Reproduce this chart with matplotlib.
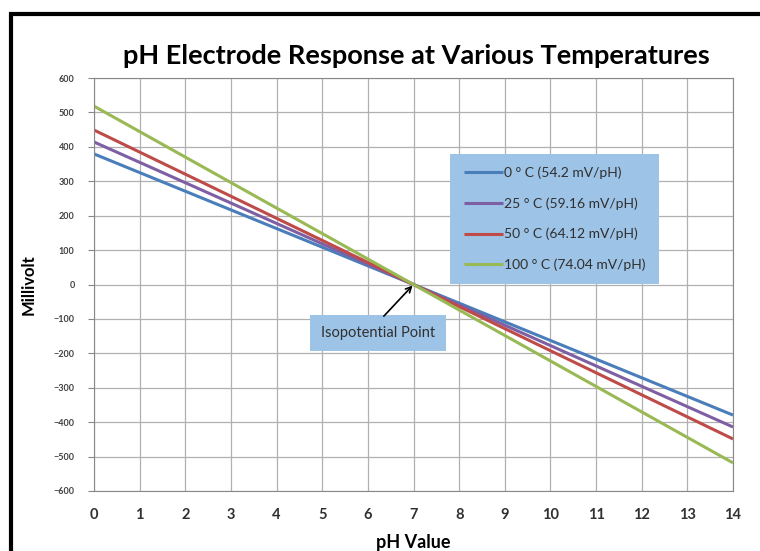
import matplotlib
matplotlib.use('Agg')
import matplotlib.pyplot as plt
from matplotlib.patches import Rectangle

# pH end points and measured millivolts at each end
ph_ends = [0, 14]
mv_0c = [379.4, -379.4]
mv_25c = [414.1, -414.1]
mv_50c = [448.8, -448.8]
mv_100c = [518.3, -518.3]

labels = ['0 ° C (54.2 mV/pH)', '25 ° C (59.16 mV/pH)',
          '50 ° C (64.12 mV/pH)', '100 ° C (74.04 mV/pH)']
colors = ['#4A7EBB', '#7F5FA3', '#BE4B48', '#98B954']

x_ticks = list(range(0, 15))
y_ticks = list(range(-600, 601, 100))

plt.rcParams['font.family'] = ['Lato', 'DejaVu Sans']

fig = plt.figure(figsize=(7.6, 5.51), dpi=100)
ax = fig.add_axes([94 / 760, 1 - 491 / 551, 639 / 760, 413 / 551])

# black frame around the chart, cropped on the right and bottom
fig.patches.append(Rectangle((11 / 760, -0.05), 1.2, 1 - 14 / 551 + 0.05,
                             transform=fig.transFigure, fill=False,
                             edgecolor='black', linewidth=3))

for ys, c, lab in zip([mv_0c, mv_25c, mv_50c, mv_100c], colors, labels):
    ax.plot(ph_ends, ys, '-', color=c, linewidth=2.2, label=lab,
            solid_capstyle='butt')

ax.set_xlim(0, 14)
ax.set_ylim(-600, 600)
ax.set_xticks(x_ticks)
ax.set_yticks(y_ticks)
ax.grid(True, color='#b0b0b0', linewidth=0.9)
ax.set_axisbelow(True)
for s in ax.spines.values():
    s.set_color('#888888')
ax.tick_params(axis='y', length=4, color='#888888', labelsize=6.5,
               labelcolor='#404040', pad=10)
ax.tick_params(axis='x', length=0, labelsize=10.5, labelcolor='#303030', pad=12)
for t in ax.get_yticklabels() + ax.get_xticklabels():
    t.set_fontweight('bold')

ax.set_xlabel('pH Value', fontsize=13, fontweight='bold', labelpad=9)
ax.set_ylabel('Millivolt', fontsize=12, fontweight='bold', labelpad=12)
fig.text(416 / 760, 1 - 56 / 551, 'pH Electrode Response at Various Temperatures',
         ha='center', va='center', fontsize=19.5, fontweight='bold')

leg = ax.legend(loc='upper left', bbox_to_anchor=(0.547, 0.834), frameon=True,
                fancybox=False, facecolor='#9DC3E6', edgecolor='none',
                framealpha=1, fontsize=10, handlelength=2.8, handletextpad=0.1,
                labelspacing=1.3, borderpad=0.95)
for t in leg.get_texts():
    t.set_color('#303030')

ax.text(6.22, -141, 'Isopotential Point', ha='center', va='center',
        fontsize=10.5, color='#303030',
        bbox=dict(boxstyle='square,pad=0.75', fc='#9DC3E6', ec='none'))
ax.annotate('', xy=(7, 0), xytext=(6.35, -92),
            arrowprops=dict(arrowstyle='->', color='black', lw=1.2,
                            shrinkA=0, shrinkB=1))

fig.savefig('out.png', dpi=100)
